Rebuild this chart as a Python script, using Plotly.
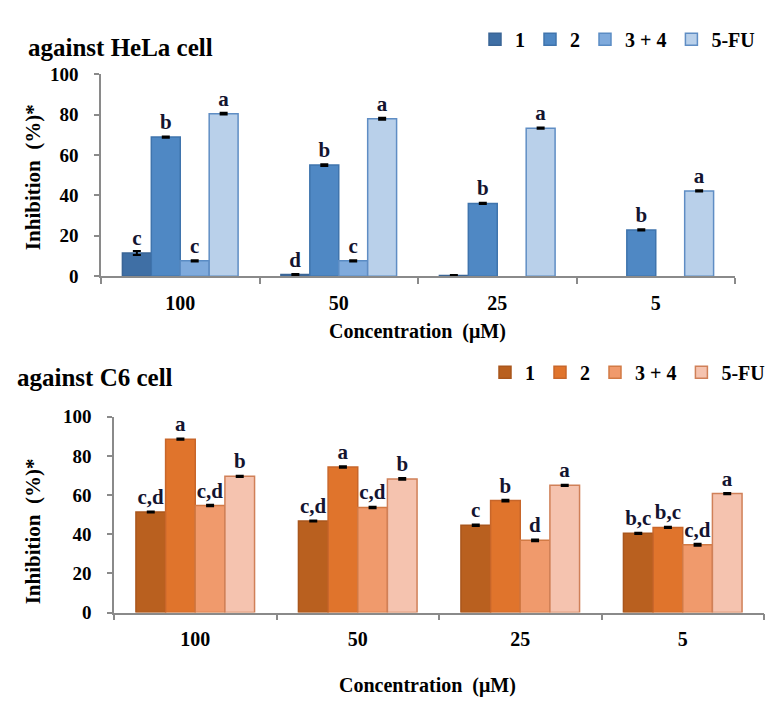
import plotly.graph_objects as go

categories = ["100", "50", "25", "5"]
series_names = ["1", "2", "3 + 4", "5-FU"]

# HeLa cell inhibition (%)
hela_1 = [11.5, 0.8, 0.3, None]
hela_2 = [68.9, 55.0, 36.0, 22.9]
hela_34 = [7.6, 7.6, None, None]
hela_5fu = [80.5, 78.0, 73.3, 42.2]
hela_err_1 = [1.0, 0.2, 0.2, None]
hela_err_2 = [0.3, 0.4, 0.3, 0.3]
hela_err_34 = [0.3, 0.3, None, None]
hela_err_5fu = [0.4, 0.5, 0.3, 0.3]
hela_lab_1 = ["c", "d", "", ""]
hela_lab_2 = ["b", "b", "b", "b"]
hela_lab_34 = ["c", "c", "", ""]
hela_lab_5fu = ["a", "a", "a", "a"]

# C6 cell inhibition (%)
c6_1 = [51.4, 46.8, 44.6, 40.5]
c6_2 = [88.6, 74.4, 57.2, 43.5]
c6_34 = [54.7, 53.7, 36.9, 34.7]
c6_5fu = [69.6, 68.3, 65.0, 60.8]
c6_err_1 = [0.3, 0.3, 0.4, 0.3]
c6_err_2 = [0.3, 0.4, 0.5, 0.3]
c6_err_34 = [0.4, 0.4, 0.4, 0.5]
c6_err_5fu = [0.3, 0.4, 0.3, 0.3]
c6_lab_1 = ["c,d", "c,d", "c", "b,c"]
c6_lab_2 = ["a", "a", "b", "b,c"]
c6_lab_34 = ["c,d", "c,d", "d", "c,d"]
c6_lab_5fu = ["b", "b", "a", "a"]

y_ticks = [0, 20, 40, 60, 80, 100]

blue_fill = ["#3f6fa5", "#4f88c4", "#7faadc", "#b9d0ea"]
blue_line = ["#3a6596", "#3f74ad", "#5b8cc4", "#5f8dc4"]
orange_fill = ["#b9601f", "#e0742c", "#f09a6c", "#f5c3af"]
orange_line = ["#a9561c", "#c8662a", "#d27a45", "#d08058"]

FONT = "Liberation Serif, Times New Roman, DejaVu Serif, serif"
W, H = 779, 710

fig = go.Figure()

hela_vals = [hela_1, hela_2, hela_34, hela_5fu]
hela_errs = [hela_err_1, hela_err_2, hela_err_34, hela_err_5fu]
hela_labs = [hela_lab_1, hela_lab_2, hela_lab_34, hela_lab_5fu]
c6_vals = [c6_1, c6_2, c6_34, c6_5fu]
c6_errs = [c6_err_1, c6_err_2, c6_err_34, c6_err_5fu]
c6_labs = [c6_lab_1, c6_lab_2, c6_lab_34, c6_lab_5fu]

lab_text_font = dict(family=FONT, size=21, color="#141430", weight="bold")

for i, name in enumerate(series_names):
    fig.add_trace(go.Bar(
        x=categories, y=hela_vals[i], name=name,
        marker=dict(color=blue_fill[i], line=dict(color=blue_line[i], width=1.5)),
        error_y=dict(type="data", array=hela_errs[i], color="black", thickness=2, width=4),
        text=hela_labs[i], textposition="outside", constraintext="none", cliponaxis=False,
        textfont=lab_text_font,
        xaxis="x", yaxis="y", legend="legend",
    ))
for i, name in enumerate(series_names):
    fig.add_trace(go.Bar(
        x=categories, y=c6_vals[i], name=name,
        marker=dict(color=orange_fill[i], line=dict(color=orange_line[i], width=1.5)),
        error_y=dict(type="data", array=c6_errs[i], color="black", thickness=2, width=4),
        text=c6_labs[i], textposition="outside", constraintext="none", cliponaxis=False,
        textfont=lab_text_font,
        xaxis="x2", yaxis="y2", legend="legend2",
    ))

common_y = dict(range=[0, 100], tickvals=y_ticks, showgrid=False, zeroline=False,
                showline=True, linecolor="#8a8a8a", linewidth=1.5,
                ticks="outside", ticklen=5, tickcolor="#8a8a8a", tickwidth=1.5,
                tickfont=dict(family=FONT, size=19, color="black", weight="bold"),
                ticklabelstandoff=12, fixedrange=True)
common_x = dict(type="category", showgrid=False, zeroline=False,
                showline=True, linecolor="#8a8a8a", linewidth=1.5,
                ticks="outside", ticklen=6, tickcolor="#8a8a8a", tickwidth=1.5,
                tickson="boundaries",
                tickfont=dict(family=FONT, size=20, color="black", weight="bold"),
                ticklabelstandoff=8)

legend_font = dict(family=FONT, size=20, color="black", weight="bold")

fig.update_layout(
    width=W, height=H,
    margin=dict(l=0, r=0, t=0, b=0),
    paper_bgcolor="white", plot_bgcolor="white",
    barmode="group", bargap=0.27, bargroupgap=0,
    font=dict(family=FONT, color="black"),
    xaxis=dict(domain=[93 / W, 727 / W], anchor="y", **common_x),
    yaxis=dict(domain=[1 - 266 / H, 1 - 58 / H], anchor="x", **common_y),
    xaxis2=dict(domain=[106 / W, 756 / W], anchor="y2", **common_x),
    yaxis2=dict(domain=[1 - 612.7 / H, 1 - 411 / H], anchor="x2", **common_y),
    legend=dict(orientation="h", x=1 - 27 / W, xanchor="right", y=1 - 22 / H, yanchor="middle",
                font=legend_font, itemwidth=30, tracegroupgap=0,
                bgcolor="rgba(0,0,0,0)", traceorder="normal"),
    legend2=dict(orientation="h", x=1 - 17 / W, xanchor="right", y=1 - 365 / H, yanchor="middle",
                 font=legend_font, itemwidth=30, tracegroupgap=0,
                 bgcolor="rgba(0,0,0,0)", traceorder="normal"),
    showlegend=True,
)

title_font = dict(family=FONT, size=25, color="black", weight="bold")
lab_font = dict(family=FONT, size=21, color="black", weight="bold")
xt_font = dict(family=FONT, size=20, color="black", weight="bold")
annotations = [
    dict(text="against HeLa cell", x=18 / W, y=1 - 30 / H, xanchor="left", yanchor="middle", font=title_font),
    dict(text="against C6 cell", x=7 / W, y=1 - 370 / H, xanchor="left", yanchor="middle", font=title_font),
    dict(text="Inhibition  (%)*", x=25 / W, y=1 - 164 / H, textangle=-90, xanchor="center", yanchor="middle", font=lab_font),
    dict(text="Inhibition  (%)*", x=25 / W, y=1 - 529 / H, textangle=-90, xanchor="center", yanchor="middle", font=lab_font),
    dict(text="Concentration  (μM)", x=409 / W, y=1 - 323 / H, xanchor="center", yanchor="middle", font=xt_font),
    dict(text="Concentration  (μM)", x=419 / W, y=1 - 688 / H, xanchor="center", yanchor="middle", font=xt_font),
]
for a in annotations:
    a.update(xref="paper", yref="paper", showarrow=False)
fig.update_layout(annotations=annotations)

fig.write_html("out.html")
